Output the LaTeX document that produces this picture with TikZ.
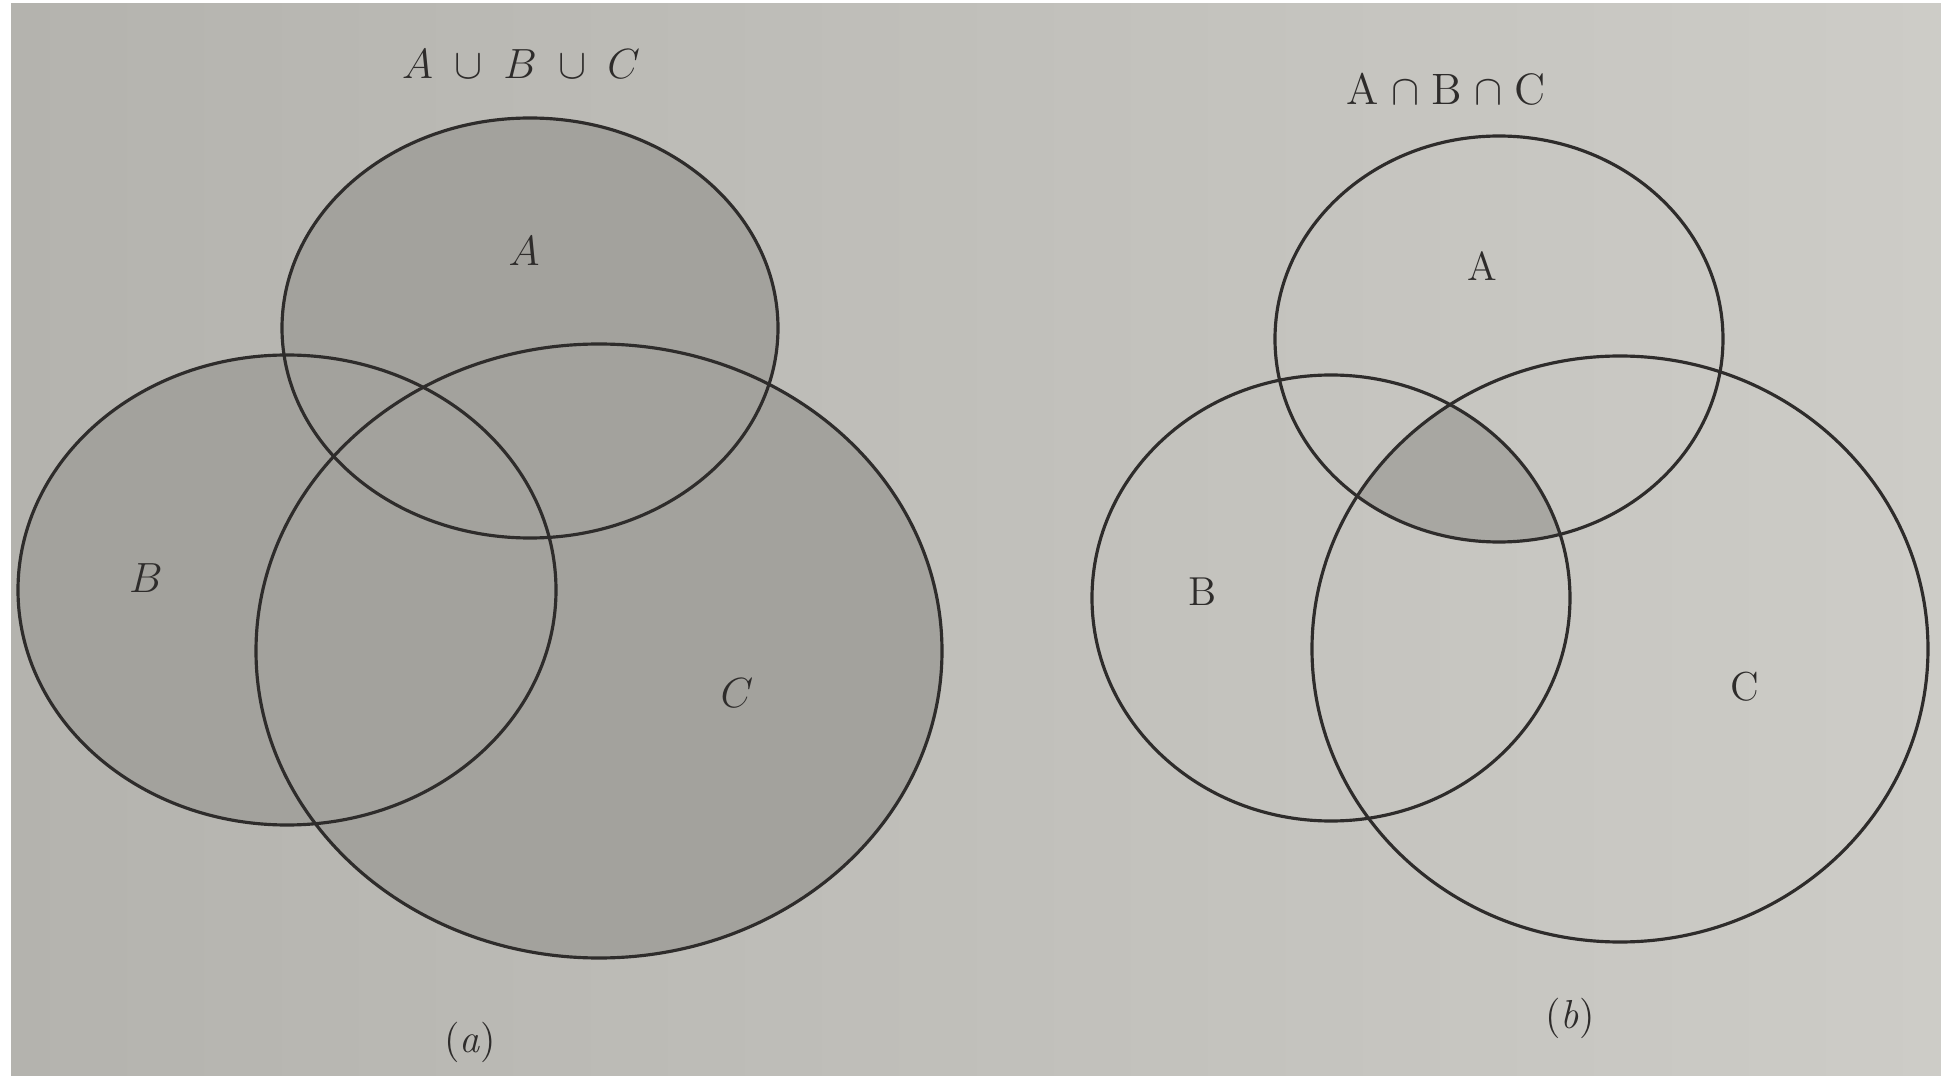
\documentclass[tikz,border=0pt]{standalone}
\usepackage{amsmath}
\begin{document}
\begin{tikzpicture}[x=0.01cm,y=-0.01cm]
\definecolor{pagebgL}{HTML}{B4B3AE}
\definecolor{pagebgR}{HTML}{CDCCC7}
\definecolor{shadeA}{HTML}{A3A29D}
\definecolor{shadeB}{HTML}{A8A7A2}
\definecolor{inkc}{HTML}{2E2C2B}
\tikzset{
  outline/.style={draw=inkc,line width=0.9pt},
  lbl/.style={inner sep=0pt,text=inkc,font=\fontsize{11.5pt}{13pt}\selectfont},
}
\useasboundingbox (0,0) rectangle (1941,1076);
\fill[white] (0,0) rectangle (1941,1076);
\shade[left color=pagebgL,right color=pagebgR] (11,4) rectangle (1941,1076);
% ---- (a) union ----
\coordinate (aA) at (530,328);
\coordinate (aB) at (287,590);
\coordinate (aC) at (599,651);
\fill[shadeA] (aA) ellipse [x radius=248,y radius=210];
\fill[shadeA] (aB) ellipse [x radius=269,y radius=235];
\fill[shadeA] (aC) ellipse [x radius=343,y radius=307];
\draw[outline] (aA) ellipse [x radius=248,y radius=210];
\draw[outline] (aB) ellipse [x radius=269,y radius=235];
\draw[outline] (aC) ellipse [x radius=343,y radius=307];
\node[lbl] (ta) at (521,64) {$A\;\cup\;B\;\cup\;C$};
\node[lbl] (la) at (524,251) {$A$};
\node[lbl] (lb) at (146,578) {$B$};
\node[lbl] (lc) at (737,693) {$C$};
\node[lbl] (capa) at (470,1042) {(\textit{a})};
% ---- (b) intersection ----
\coordinate (bA) at (1499,339);
\coordinate (bB) at (1331,598);
\coordinate (bC) at (1620,649);
\begin{scope}
  \clip (bA) ellipse [x radius=224,y radius=203];
  \clip (bB) ellipse [x radius=239,y radius=223];
  \fill[shadeB] (bC) ellipse [x radius=308,y radius=293];
\end{scope}
\draw[outline] (bA) ellipse [x radius=224,y radius=203];
\draw[outline] (bB) ellipse [x radius=239,y radius=223];
\draw[outline] (bC) ellipse [x radius=308,y radius=293];
\node[lbl,font=\fontsize{12.5pt}{14pt}\selectfont] (tb) at (1446,89) {A\;$\cap$\;B\;$\cap$\;C};
\node[lbl] (lA2) at (1482,266) {A};
\node[lbl] (lB2) at (1203,592) {B};
\node[lbl] (lC2) at (1745,687) {C};
\node[lbl] (capb) at (1570,1018) {(\textit{b})};
\end{tikzpicture}
\end{document}
